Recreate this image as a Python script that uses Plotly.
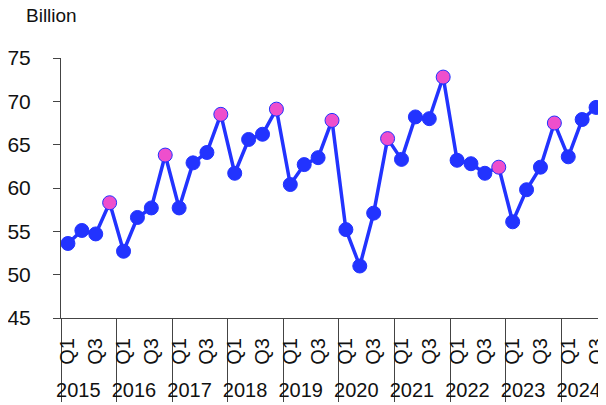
import plotly.graph_objects as go

years = ["2015", "2016", "2017", "2018", "2019", "2020", "2021", "2022", "2023", "2024"]
# Q2/Q4 left unlabeled; leading no-break space adds a little room below the labels
quarter_labels = ["\u00a0Q1", "\u00a0", "\u00a0Q3", "\u00a0\u00a0"]
values = [
    53.6, 55.1, 54.7, 58.3,
    52.7, 56.6, 57.7, 63.8,
    57.7, 62.9, 64.1, 68.5,
    61.7, 65.6, 66.2, 69.1,
    60.4, 62.7, 63.5, 67.8,
    55.2, 51.0, 57.1, 65.7,
    63.3, 68.2, 68.0, 72.8,
    63.2, 62.8, 61.7, 62.4,
    56.1, 59.8, 62.4, 67.5,
    63.6, 67.9, 69.3,
]

x_year, x_q = [], []
for y in years:
    for q in quarter_labels:
        if len(x_year) < len(values):
            x_year.append(y)
            x_q.append(q)

blue = "#2233ff"
pink = "#ee4fcc"
colors = [pink if q == quarter_labels[3] else blue for q in x_q]

font = "Liberation Sans, Arial, sans-serif"

fig = go.Figure()
fig.add_trace(go.Scatter(
    x=[x_year, x_q], y=values, mode="lines+markers",
    line=dict(color=blue, width=3.5),
    marker=dict(size=14, color=colors, line=dict(color=blue, width=1)),
    showlegend=False,
))

# page body has an 8px margin, so the figure is a bit smaller than the window
fig.update_layout(
    width=598, height=397,
    margin=dict(l=53, r=3, t=50, b=87),
    plot_bgcolor="white", paper_bgcolor="white",
    font=dict(family=font, size=20, color="#111111"),
    annotations=[dict(text="Billion", xref="paper", yref="paper",
                      x=-0.068, y=1.165, xanchor="left", yanchor="middle",
                      showarrow=False, font=dict(size=19))],
)
fig.update_yaxes(range=[45, 75], dtick=5, showgrid=False, zeroline=False,
                 showline=True, linecolor="#444444", linewidth=1,
                 ticks="outside", ticklen=7, tickcolor="#444444",
                 ticklabelstandoff=18,
                 automargin=False, tickfont=dict(size=21))
fig.update_xaxes(type="multicategory", showgrid=False, showline=True,
                 linecolor="#444444", linewidth=1, tickangle=-90,
                 showdividers=True, dividercolor="#444444", dividerwidth=1,
                 ticks="", ticklabelstandoff=11,
                 range=[-0.5, 38.5], automargin=False,
                 tickfont=dict(size=20))

fig.write_html("out.html")
